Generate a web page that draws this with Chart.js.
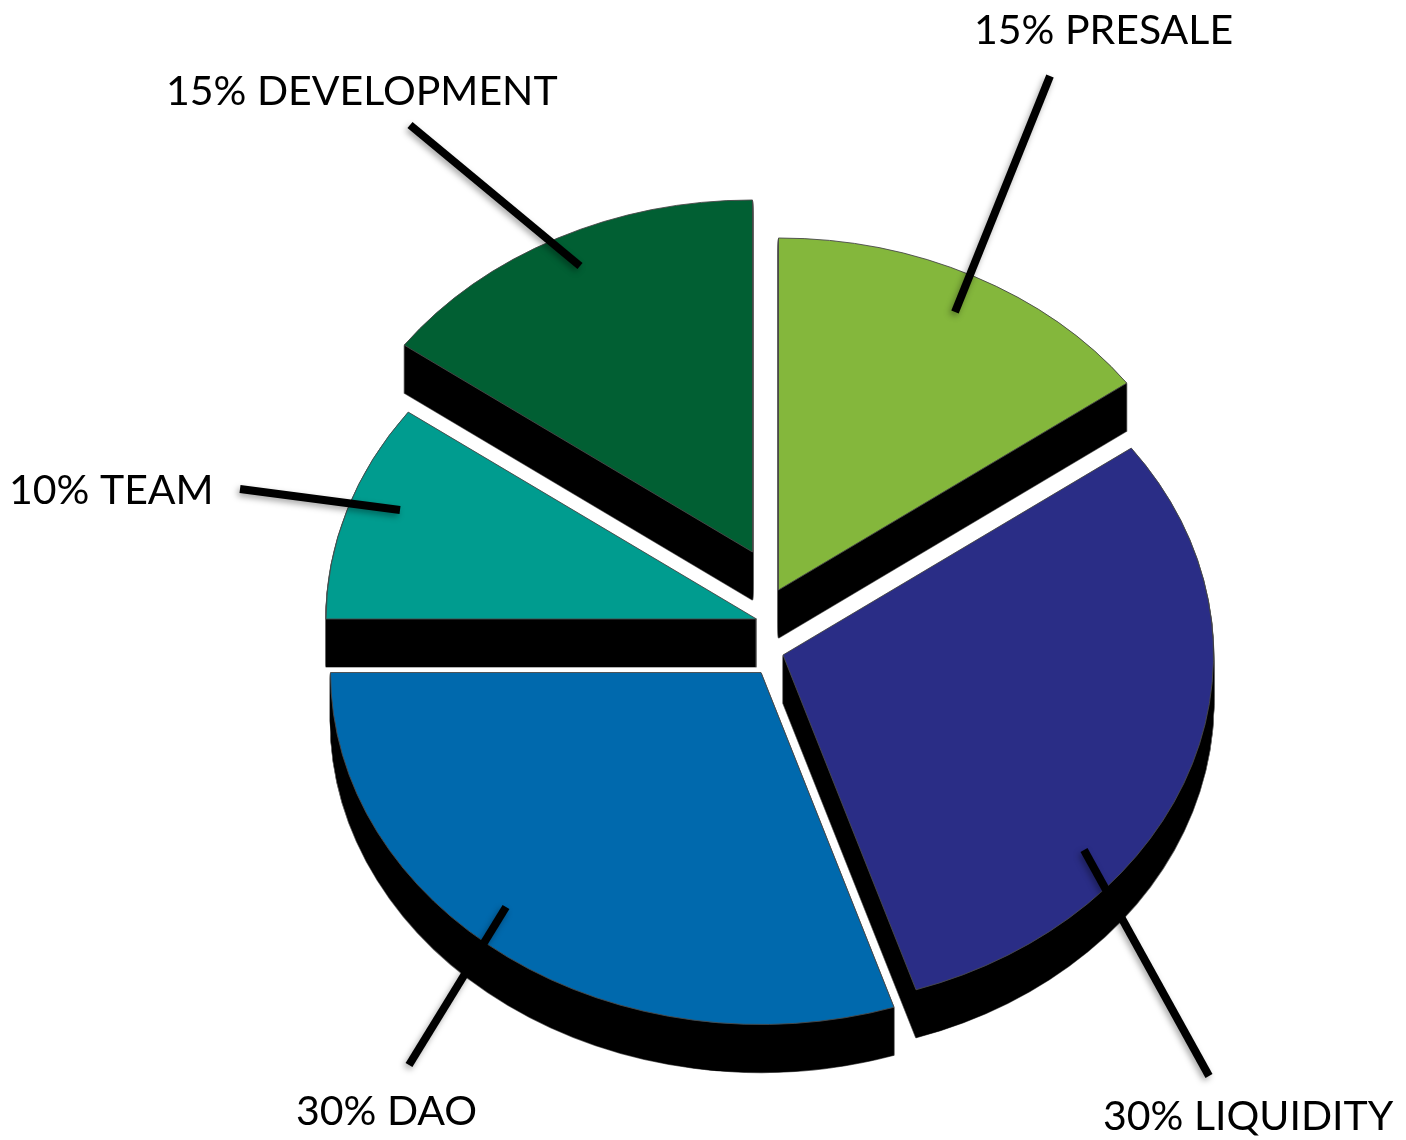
<!DOCTYPE html>
<html>
<head>
<meta charset="utf-8">
<title>Token allocation</title>
<script src="https://cdn.jsdelivr.net/npm/chart.js@4/dist/chart.umd.js"></script>
<style>
  html, body { margin: 0; padding: 0; background: #fff; }
  canvas { display: block; }
</style>
</head>
<body>
<canvas id="pie" width="1406" height="1140"></canvas>
<script>
const categories = ['Presale', 'Liquidity', 'DAO', 'Team', 'Development'];
const shares = [15, 30, 30, 10, 15];
const colors = ['#84b73c', '#2a2d86', '#0069ad', '#009c8f', '#015f33'];

// where each slice's tip sits once the pie is pulled apart
const tips = [[778.5, 590], [783, 655], [761, 672.5], [756.5, 619], [752.5, 552]];
const paintOrder = [4, 0, 3, 1, 2];
const radius = 430.5;
const tilt = 352 / 430.5;
const depth = 48;

const callouts = [
    { text: [974, 44], line: [1050, 76, 955, 312] },
    { text: [1103, 1130], line: [1209, 1076, 1084, 850] },
    { text: [296, 1125], line: [409, 1065, 506, 907] },
    { text: [9, 504], line: [240, 489, 400, 510] },
    { text: [166, 105], line: [410, 125, 580, 266] }
];

function drawLayer(ctx, arc, tip, dy, overrides) {
    const saved = arc.options;
    arc.options = Object.assign({}, saved, overrides);
    ctx.save();
    ctx.translate(tip[0], tip[1] + dy);
    ctx.scale(1, tilt);
    ctx.translate(-arc.x, -arc.y);
    arc.draw(ctx);
    ctx.restore();
    arc.options = saved;
}

// flattens each slice and gives it a black side wall
const tiltedSlices = {
    id: 'tiltedSlices',
    beforeDatasetDraw(chart, args) {
        const ctx = chart.ctx;
        paintOrder.forEach(i => {
            const arc = args.meta.data[i];
            for (let dy = depth; dy > 0; dy--) {
                drawLayer(ctx, arc, tips[i], dy, { backgroundColor: '#000', borderColor: '#666', borderWidth: 1.5 });
            }
            for (let dy = depth; dy > 0; dy--) {
                drawLayer(ctx, arc, tips[i], dy, { backgroundColor: '#000', borderWidth: 0 });
            }
            drawLayer(ctx, arc, tips[i], 0, { backgroundColor: colors[i], borderColor: '#4a4a4a', borderWidth: 1 });
        });
        return false;
    },
    afterDraw(chart) {
        const ctx = chart.ctx;
        ctx.save();
        callouts.forEach((c, i) => {
            ctx.save();
            ctx.strokeStyle = '#000';
            ctx.lineWidth = 8;
            ctx.shadowColor = 'rgba(0,0,0,0.35)';
            ctx.shadowBlur = 6;
            ctx.shadowOffsetX = -2;
            ctx.shadowOffsetY = 3;
            ctx.beginPath();
            ctx.moveTo(c.line[0], c.line[1]);
            ctx.lineTo(c.line[2], c.line[3]);
            ctx.stroke();
            ctx.restore();

            ctx.fillStyle = '#000';
            ctx.font = '41px Lato';
            ctx.textBaseline = 'alphabetic';
            ctx.fillText(shares[i] + '% ' + categories[i].toUpperCase(), c.text[0], c.text[1]);
        });
        ctx.restore();
    }
};

new Chart(document.getElementById('pie'), {
    type: 'pie',
    data: {
        labels: categories,
        datasets: [{ data: shares, backgroundColor: colors, borderWidth: 0 }]
    },
    options: {
        responsive: false,
        animation: false,
        radius: radius,
        plugins: {
            legend: { display: false },
            tooltip: { enabled: false }
        }
    },
    plugins: [tiltedSlices]
});
</script>
</body>
</html>
